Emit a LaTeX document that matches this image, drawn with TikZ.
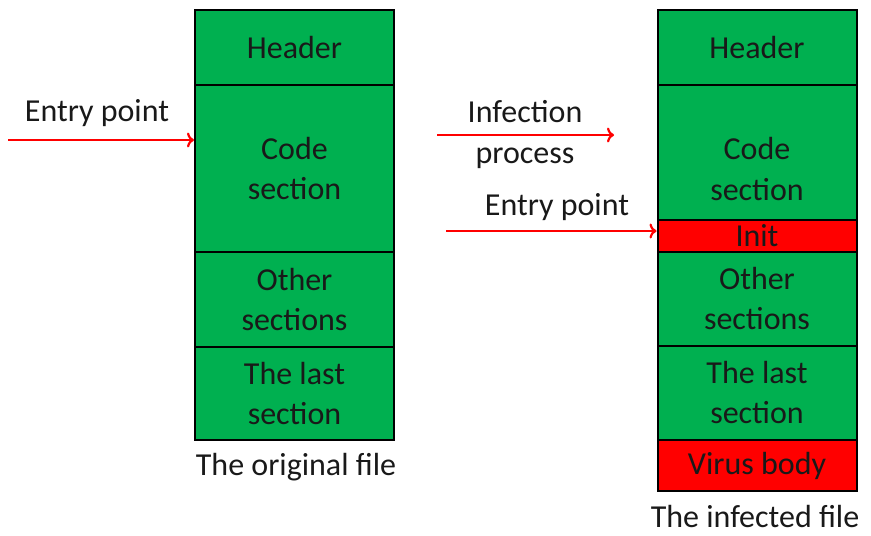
\documentclass[tikz,border=0pt]{standalone}
\usepackage{fontspec}
\setmainfont{Carlito}
\usetikzlibrary{arrows.meta}
\definecolor{secgreen}{HTML}{00B050}
\definecolor{virred}{HTML}{FF0000}
\tikzset{
  sec/.style={draw=black, line width=2pt, fill=secgreen, minimum width=199pt, inner sep=0pt, align=center, font=\fontsize{32}{40}\selectfont, text=black!90},
  virsec/.style={sec, fill=virred},
  lbl/.style={align=center, inner sep=0pt, font=\fontsize{32}{41}\selectfont, text=black!90},
  arr/.style={draw=virred, line width=2.2pt, -{To[length=7pt,width=15pt]}}
}
\begin{document}
\begin{tikzpicture}[x=1pt,y=-1pt]
\useasboundingbox (0,0) rectangle (871,536);
% original file
\node[sec, minimum height=75pt] (h1) at (294.5,47.5) {Header};
\node[sec, minimum height=167pt] (c1) at (294.5,168.5) {Code\\section};
\node[sec, minimum height=95pt] (o1) at (294.5,299.5) {Other\\sections};
\node[sec, minimum height=93pt] (l1) at (294.5,393.5) {The last\\section};
\node[lbl] (cap1) at (296,467) {The original file};
% infected file
\node[sec, minimum height=75pt] (h2) at (757,47.5) {Header};
\node[sec, minimum height=135pt] (c2) at (757,152.5) {};
\node[lbl] (c2t) at (757,169) {Code\\section};
\node[virsec, minimum height=32pt] (i2) at (757,236) {Init};
\node[sec, minimum height=94pt] (o2) at (757,299) {Other\\sections};
\node[sec, minimum height=94pt] (l2) at (757,393) {The last\\section};
\node[virsec, minimum height=51pt] (v2) at (757,465.5) {Virus body};
\node[lbl] (cap2) at (755,517) {The infected file};
% arrows and labels
\node[lbl] (ep1) at (97,113) {Entry point};
\coordinate (a1) at (8,140);
\draw[arr] (a1) -- (a1 -| c1.west);
\node[lbl] (inf) at (525,135) {Infection\\process};
\coordinate (a2s) at (437,135);
\coordinate (a2e) at (614,135);
\draw[arr] (a2s) -- (a2e);
\node[lbl] (ep2) at (557,207) {Entry point};
\coordinate (a3) at (446,231);
\draw[arr] (a3) -- (a3 -| i2.west);
\end{tikzpicture}
\end{document}
